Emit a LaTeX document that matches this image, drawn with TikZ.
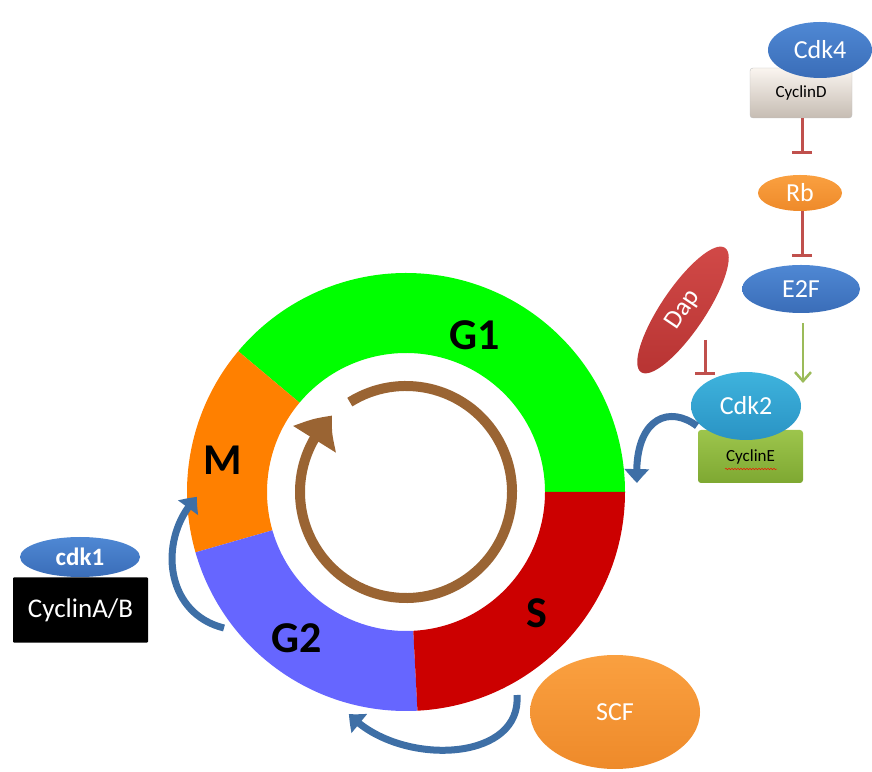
\documentclass[tikz,border=0pt]{standalone}
\usepackage{fontspec}
\setmainfont{Carlito}
\usetikzlibrary{shapes.geometric,arrows.meta,bending,decorations.pathmorphing}
\definecolor{gone}{HTML}{00FF00}
\definecolor{mcol}{HTML}{FF8000}
\definecolor{gtwo}{HTML}{6666FF}
\definecolor{scol}{HTML}{CC0000}
\definecolor{brn}{HTML}{9A6433}
\definecolor{bluetop}{HTML}{4F88D4}
\definecolor{bluebot}{HTML}{3A6DB8}
\definecolor{cyantop}{HTML}{3EB3DD}
\definecolor{cyanbot}{HTML}{2A93C4}
\definecolor{orgtop}{HTML}{FAA040}
\definecolor{orgbot}{HTML}{EE8A2A}
\definecolor{daptop}{HTML}{D24A48}
\definecolor{dapbot}{HTML}{B83433}
\definecolor{cetop}{HTML}{9DC54C}
\definecolor{cebot}{HTML}{7EA832}
\definecolor{inh}{HTML}{C0504D}
\definecolor{act}{HTML}{9BBB59}
\definecolor{curv}{HTML}{3E6FA6}
\tikzset{
  prot/.style={ellipse, inner sep=0pt, text=white, font=\fontsize{26}{30}\selectfont},
  bluep/.style={prot, top color=bluetop, bottom color=bluebot},
  boxn/.style={rectangle, rounded corners=3pt, inner sep=0pt},
  inhib/.style={draw=inh, line width=3pt, -{Bar[width=20pt,line width=3pt]}},
  actv/.style={draw=act, line width=2.5pt, -{Straight Barb[length=9pt,width=16pt,line width=2.5pt]}},
  curved/.style={draw=curv, line width=7pt, -{Triangle[bend,length=14pt,width=24pt]}},
  phase/.style={font=\fontsize{44}{48}\selectfont\bfseries, text=black},
}
\begin{document}
\begin{tikzpicture}[x=1pt,y=1pt]
\useasboundingbox (0,0) rectangle (872,771);
% ring
\begin{scope}[shift={(406,279)}]
\fill[gone] (0:219) arc[start angle=0,end angle=140,radius=219] -- (140:139) arc[start angle=140,end angle=0,radius=139] -- cycle;
\fill[mcol] (140:219) arc[start angle=140,end angle=196,radius=219] -- (196:139) arc[start angle=196,end angle=140,radius=139] -- cycle;
\fill[gtwo] (196:219) arc[start angle=196,end angle=273,radius=219] -- (273:139) arc[start angle=273,end angle=196,radius=139] -- cycle;
\fill[scol] (273:219) arc[start angle=273,end angle=360,radius=219] -- (360:139) arc[start angle=360,end angle=273,radius=139] -- cycle;
\draw[brn, line width=10pt, -{Triangle[bend,length=30pt,width=48pt]}] (122:106) arc[start angle=122,end angle=-226,radius=106];
\end{scope}
\node[phase] (g1) at (475,436) {G1};
\node[phase] (m) at (223,311) {M};
\node[phase] (g2) at (297,133) {G2};
\node[phase] (s) at (537,158) {S};
% top-right pathway
\node[boxn, minimum width=102pt, minimum height=50pt, top color=white!92!brown, bottom color=black!22!white!85!brown, draw=black!25, font=\fontsize{17}{20}\selectfont] (cycd) at (801,678) {CyclinD};
\node[bluep, minimum width=104pt, minimum height=56pt] (cdk4) at (820,721) {Cdk4};
\node[prot, minimum width=84pt, minimum height=36pt, top color=orgtop, bottom color=orgbot] (rb) at (800,578) {Rb};
\node[bluep, minimum width=118pt, minimum height=48pt] (e2f) at (801,482) {E2F};
\node[prot, minimum width=150pt, minimum height=44pt, rotate=56, top color=daptop, bottom color=dapbot] (dap) at (683,461) {Dap};
\node[boxn, minimum width=105pt, minimum height=53pt, top color=cetop, bottom color=cebot, font=\fontsize{17}{20}\selectfont] (cyce) at (750.5,314.5) {CyclinE};
\node[prot, minimum width=110pt, minimum height=68pt, top color=cyantop, bottom color=cyanbot] (cdk2) at (746,365) {Cdk2};
\draw[red, decorate, decoration={snake,amplitude=0.8pt,segment length=3pt}] (725,302) -- (777,302);
\coordinate (rbbar) at (802,617);
\coordinate (e2fbar) at (802,514);
\coordinate (dapbar) at (705,396);
\coordinate (dapfrom) at (705,431);
\coordinate (cdk2in) at (803,388);
\draw[inhib] (cycd.south -| rbbar) -- (rbbar);
\draw[inhib] (rb.south -| e2fbar) -- (e2fbar);
\draw[inhib] (dapfrom) -- (dapbar);
\draw[actv] (e2f.south -| cdk2in) ++(0,-10) -- (cdk2in);
% left complex
\node[boxn, rounded corners=1pt, fill=black, minimum width=135pt, minimum height=65pt, text=white, font=\fontsize{27}{30}\selectfont] (cycab) at (80.5,161) {CyclinA/B};
\node[bluep, minimum width=120pt, minimum height=40pt, font=\fontsize{25}{28}\selectfont\bfseries] (cdk1) at (80,214) {cdk1};
% SCF
\node[prot, minimum width=170pt, minimum height=114pt, top color=orgtop, bottom color=orgbot] (scf) at (615,59) {SCF};
% curved arrows
\coordinate (ra) at (697,345);
\coordinate (rb2) at (637,288);
\draw[curved] (ra) .. controls (668,367) and (633,352) .. (rb2);
\coordinate (la) at (224,143);
\coordinate (lb) at (197,274);
\draw[curved] (la) .. controls (163,158) and (158,235) .. (lb);
\coordinate (ba) at (517,76);
\coordinate (bb) at (349,57);
\draw[curved] (ba) .. controls (522,8) and (398,4) .. (bb);
\end{tikzpicture}
\end{document}
